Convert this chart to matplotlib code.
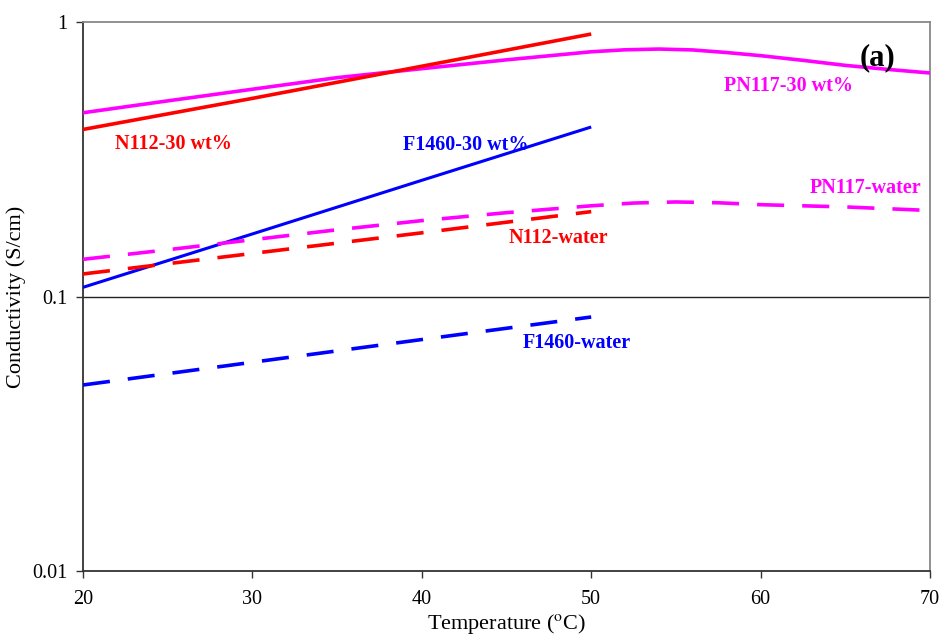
import matplotlib
matplotlib.use("Agg")
import matplotlib.pyplot as plt
from matplotlib.ticker import FixedLocator, FixedFormatter, NullLocator

plt.rcParams['font.family'] = ['Liberation Serif', 'DejaVu Serif']
plt.rcParams['mathtext.fontset'] = 'stix'

# ---- data ----
t_short = [20, 30, 40, 50]
n112_30 = [0.406, 0.527, 0.690, 0.904]
f1460_30 = [0.108, 0.169, 0.265, 0.4145]
n112_water = [0.1208, 0.1435, 0.1706, 0.2038]
f1460_water = [0.0476, 0.0576, 0.0697, 0.0842]

t_pn_30 = [20, 25, 30, 35, 40, 45, 50, 52, 54, 56, 58, 60, 62.5, 65, 67.5, 70]
pn117_30 = [0.467, 0.516, 0.569, 0.627, 0.676, 0.728, 0.779, 0.792, 0.797, 0.791,
            0.774, 0.754, 0.725, 0.695, 0.672, 0.652]
t_pn_w = [20, 25, 30, 35, 40, 45, 50, 52.5, 55, 57.5, 60, 65, 70]
pn117_water = [0.1366, 0.148, 0.161, 0.175, 0.189, 0.202, 0.214, 0.219, 0.221,
               0.2195, 0.216, 0.212, 0.2057]

x_ticks = [20, 30, 40, 50, 60, 70]
y_ticks = [0.01, 0.1, 1]
y_ticklabels = ["0.01", "0.1", "1"]

RED = "#FF0000"
BLUE = "#0000FF"
MAG = "#FF00FF"

fig = plt.figure(figsize=(9.41, 6.39), dpi=100)
ax = fig.add_axes([83/941, 1-571/639, (930-83)/941, (571-22)/639])

lw = 2.6
dash = (0, (7.5, 5.0))
ax.plot(t_pn_30, pn117_30, color=MAG, lw=lw, solid_capstyle='butt',
        solid_joinstyle='round', zorder=3)
ax.plot(t_short, n112_30, color=RED, lw=lw, solid_capstyle='butt', zorder=3)
ax.plot(t_short, f1460_30, color=BLUE, lw=lw*0.85, solid_capstyle='butt', zorder=3)
ax.plot(t_pn_w, pn117_water, color=MAG, lw=lw, linestyle=dash, zorder=3)
ax.plot(t_short, n112_water, color=RED, lw=lw, linestyle=dash, zorder=3)
ax.plot(t_short, f1460_water, color=BLUE, lw=lw, linestyle=dash, zorder=3)

ax.set_yscale('log')
ax.set_xlim(20, 70)
ax.set_ylim(0.01, 1)
ax.xaxis.set_major_locator(FixedLocator(x_ticks))
ax.yaxis.set_major_locator(FixedLocator(y_ticks))
ax.yaxis.set_major_formatter(FixedFormatter(y_ticklabels))
ax.yaxis.set_minor_locator(NullLocator())
ax.tick_params(axis='both', labelsize=14.5, direction='out', length=5, width=1.0, color='#333333')
ax.tick_params(axis='x', pad=9)
ax.tick_params(axis='y', pad=6)

ax.axhline(0.1, color='#222222', lw=1.0, zorder=2)

for s in ['left', 'bottom']:
    ax.spines[s].set_color('#333333')
    ax.spines[s].set_linewidth(1.3)
for s in ['top', 'right']:
    ax.spines[s].set_color('#888888')
    ax.spines[s].set_linewidth(1.3)

ax.set_xlabel(r"Temperature ($^{\mathrm{o}}$C)", fontsize=16, labelpad=2)
ax.set_ylabel("Conductivity (S/cm)", fontsize=16, labelpad=5)

kw = dict(fontsize=14.5, fontweight='bold', ha='left', va='baseline', zorder=4)
ax.text(21.9, 0.3445, "N112-30 wt%", color=RED, **kw)
ax.text(38.9, 0.3415, "F1460-30 wt%", color=BLUE, **kw)
ax.text(57.84, 0.561, "PN117-30 wt%", color=MAG, **kw)
ax.text(62.9, 0.238, "PN117-water", color=MAG, **kw)
ax.text(45.15, 0.1566, "N112-water", color=RED, **kw)
ax.text(45.95, 0.0649, "F1460-water", color=BLUE, **kw)
ax.text(65.87, 0.697, "(a)", color='black', fontsize=22, fontweight='bold',
        ha='left', va='baseline', zorder=4)

fig.savefig("out.png", dpi=100)
